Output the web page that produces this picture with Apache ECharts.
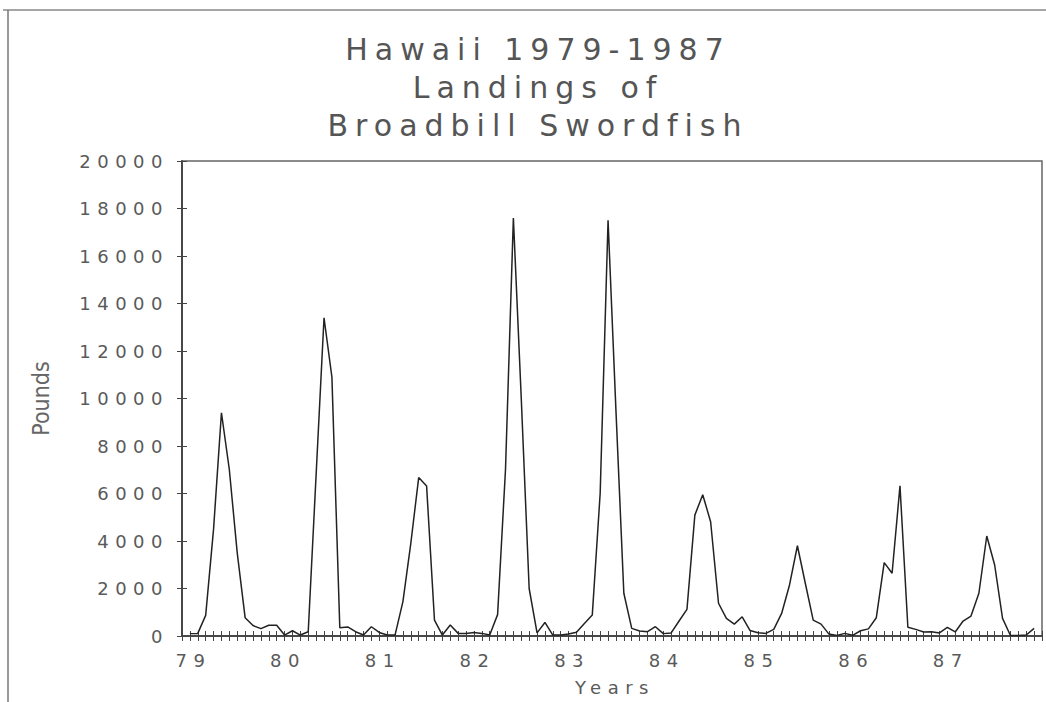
<!DOCTYPE html>
<html>
<head>
<meta charset="utf-8">
<script src="https://cdn.jsdelivr.net/npm/echarts@6/dist/echarts.min.js"></script>
<style>
  html, body { margin: 0; padding: 0; background: #fff; }
  #main { width: 1046px; height: 702px; }
  #main text[style*="30px"] { letter-spacing: 7px; }
  #main text[style*="18px"] { letter-spacing: 6.5px; }
</style>
</head>
<body>
<div id="main"></div>
<script>
// Tick labels (years, one per January)
const yearLabels = ['79', '80', '81', '82', '83', '84', '85', '86', '87'];
// Monthly landings in pounds, Jan..Dec of each year
const y1979 = [100, 110, 870, 4500, 9400, 7000, 3500, 770, 440, 310, 450, 450];
const y1980 = [40, 220, 40, 180, 6800, 13400, 10900, 350, 380, 180, 40, 390];
const y1981 = [150, 40, 40, 1450, 3900, 6670, 6320, 670, 40, 460, 110, 110];
const y1982 = [150, 110, 40, 900, 7000, 17600, 10000, 2000, 130, 570, 40, 40];
const y1983 = [80, 160, 530, 880, 6000, 17500, 9500, 1800, 320, 210, 180, 390];
const y1984 = [100, 130, 630, 1120, 5090, 5950, 4810, 1380, 740, 500, 810, 230];
const y1985 = [140, 110, 280, 950, 2150, 3800, 2220, 670, 500, 80, 20, 110];
const y1986 = [30, 220, 300, 770, 3090, 2640, 6320, 370, 280, 170, 180, 130];
const y1987 = [360, 170, 630, 840, 1800, 4210, 2990, 740, 20, 20, 40, 320];

const titleText = 'Hawaii 1979-1987\nLandings of\nBroadbill Swordfish';
const xName = 'Years';
const yName = 'Pounds';

const allYears = [y1979, y1980, y1981, y1982, y1983, y1984, y1985, y1986, y1987];
const seriesData = [];
allYears.forEach(function (arr, yi) {
  arr.forEach(function (v, mi) { seriesData.push([yi * 12 + mi, v]); });
});

const axisColor = '#444';
const textColor = '#5a5a5a';
const labelFont = 'DejaVu Sans';

const chart = echarts.init(document.getElementById('main'), null, { renderer: 'svg' });
chart.setOption({
  backgroundColor: '#fff',
  animation: false,
  title: {
    text: titleText,
    left: 533,
    top: 25,
    textAlign: 'center',
    textStyle: {
      fontFamily: labelFont,
      fontSize: 30,
      fontWeight: 'normal',
      color: '#555',
      lineHeight: 38
    }
  },
  grid: {
    left: 182, right: 4, top: 161, bottom: 66,
    show: true,
    borderColor: '#666',
    borderWidth: 1.5,
    backgroundColor: 'transparent'
  },
  xAxis: [{
    type: 'value',
    position: 'bottom',
    min: -1, max: 108, interval: 1,
    name: xName,
    nameLocation: 'middle',
    nameGap: 42,
    nameTextStyle: { fontFamily: labelFont, fontSize: 18, color: textColor, padding: [0, 0, 0, 6] },
    axisLine: { show: true, onZero: false, lineStyle: { color: axisColor, width: 1.5 } },
    axisTick: { show: true, inside: false, length: 5, lineStyle: { color: axisColor, width: 1, type: 'solid' } },
    splitLine: { show: false },
    axisLabel: {
      show: true,
      margin: 15,
      fontFamily: labelFont, fontSize: 18, color: textColor,
      padding: [0, 0, 0, 7],
      showMinLabel: true, showMaxLabel: true,
      formatter: function (v) {
        return (v >= 0 && v % 12 === 0 && yearLabels[v / 12]) ? yearLabels[v / 12] : '';
      }
    }
  }, {
    type: 'value',
    position: 'bottom',
    offset: 0,
    min: -1, max: 108, interval: 1,
    axisLine: { show: true, onZero: false, lineStyle: { color: axisColor, width: 1.5 } },
    axisTick: { show: true, inside: true, length: 5, lineStyle: { color: axisColor, width: 1, type: 'solid' } },
    axisLabel: { show: false },
    splitLine: { show: false }
  }],
  yAxis: [{
    type: 'value',
    position: 'left',
    min: 0, max: 20000, interval: 2000,
    name: yName,
    nameLocation: 'middle',
    nameGap: 130,
    nameRotate: 90,
    nameTextStyle: { fontFamily: 'Liberation Sans Narrow, DejaVu Sans Condensed, sans-serif', fontSize: 23, color: '#666' },
    axisLine: { show: true, onZero: false, lineStyle: { color: axisColor, width: 1.5 } },
    axisTick: { show: true, inside: false, length: 5, lineStyle: { color: axisColor, width: 1, type: 'solid' } },
    splitLine: { show: false },
    axisLabel: {
      show: true,
      margin: 13, fontFamily: labelFont, fontSize: 18, color: textColor,
      formatter: function (v) { return String(v); }
    }
  }, {
    type: 'value',
    position: 'left',
    offset: 0,
    min: 0, max: 20000, interval: 2000,
    axisLine: { show: true, onZero: false, lineStyle: { color: axisColor, width: 1.5 } },
    axisTick: { show: true, inside: true, length: 5, lineStyle: { color: axisColor, width: 1, type: 'solid' } },
    axisLabel: { show: false },
    splitLine: { show: false }
  }],
  graphic: [
    { type: 'line', shape: { x1: 3, y1: 10, x2: 1046, y2: 10 }, style: { stroke: '#888', lineWidth: 1.5 }, silent: true },
    { type: 'line', shape: { x1: 8, y1: 10, x2: 8, y2: 702 }, style: { stroke: '#777', lineWidth: 1.5 }, silent: true }
  ],
  series: [{
    type: 'line',
    xAxisIndex: 0,
    yAxisIndex: 0,
    data: seriesData,
    showSymbol: false,
    symbol: 'none',
    lineStyle: { color: '#222', width: 1.5 },
    z: 5
  }]
});
</script>
</body>
</html>
